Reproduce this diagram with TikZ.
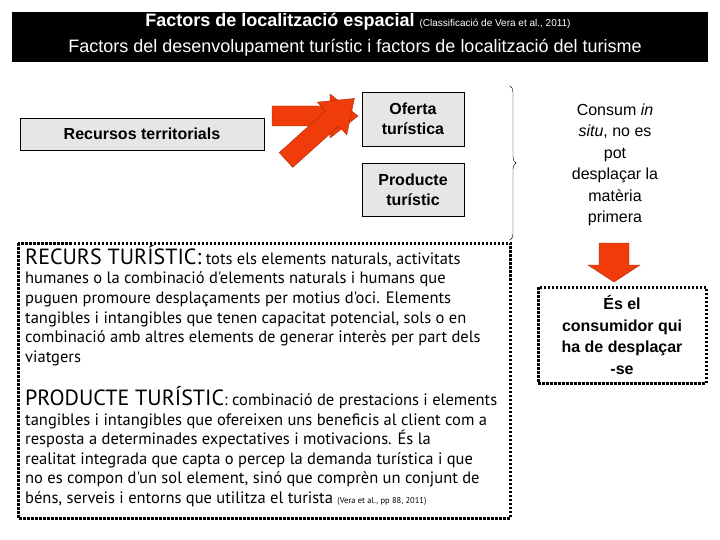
\documentclass[tikz,border=0pt]{standalone}
\usepackage{fontspec}
\setmainfont{Liberation Sans}
\newfontfamily\gill{PT Sans}
\usetikzlibrary{decorations.pathreplacing}
\definecolor{arrred}{RGB}{240,60,10}
\definecolor{boxgray}{RGB}{230,230,230}
\tikzset{
 graybox/.style={draw=black,fill=boxgray,font=\bfseries\fontsize{16}{20}\selectfont,align=center,inner sep=0pt},
 redarrow/.style={draw=arrred!70!black,fill=arrred},
 dotbox/.style={draw=black,line width=3pt,dash pattern=on 2.5pt off 1.5pt}
}
\begin{document}
\begin{tikzpicture}[x=1pt,y=-1pt]
\useasboundingbox (0,0) rectangle (720,540);
\node[fill=black,minimum width=696pt,minimum height=50pt,inner sep=0pt,anchor=north west] (hdr) at (12,12) {};
\node[text=white,font=\bfseries\fontsize{18}{18}\selectfont] (h1) at (358,22) {Factors de localització espacial {\mdseries\fontsize{10}{10}\selectfont (Classificació de Vera et al., 2011)}};
\node[text=white,font=\fontsize{18}{18}\selectfont] (h2) at (355,48) {Factors del desenvolupament turístic i factors de localització del turisme};
\node[graybox,minimum width=244pt,minimum height=32pt] (rec) at (142,134) {Recursos territorials};
\node[graybox,minimum width=102pt,minimum height=54pt] (of) at (413,119) {Oferta\\turística};
\node[graybox,minimum width=102pt,minimum height=53pt] (pr) at (413,190) {Producte\\turístic};
\draw[redarrow] (272,106) -- (330,106) -- (330,94) -- (358,116) -- (330,138) -- (330,126) -- (272,126) -- cycle;
\begin{scope}[shift={(286,160)},rotate=42]
\draw[redarrow] (0,-10) -- (62,-10) -- (62,-22) -- (92,0) -- (62,22) -- (62,10) -- (0,10) -- cycle;
\end{scope}
\draw[decorate,decoration={brace,amplitude=6pt}] (510,86) -- (510,240);
\node[font=\fontsize{16}{21.5}\selectfont,align=center] (cons) at (615,165) {Consum \textit{in}\\\textit{situ}, no es\\pot\\desplaçar la\\matèria\\primera};
\draw[redarrow] (599,243) -- (629,243) -- (629,265) -- (640,265) -- (614,282) -- (588,265) -- (599,265) -- cycle;
\draw[dotbox] (538,287) rectangle (706,383);
\node[font=\bfseries\fontsize{16}{21.5}\selectfont,align=center] (es) at (622,335) {És el\\consumidor qui\\ha de desplaçar\\-se};
\draw[dotbox] (18,243) rectangle (510,518);
\node[anchor=north west,align=left,font=\gill\fontsize{16.5}{19.6}\selectfont,inner sep=0pt] (txt) at (25,245) {%
{\fontsize{22}{19.6}\selectfont RECURS TURÍSTIC:} tots els elements naturals, activitats\\
humanes o la combinació d'elements naturals i humans que\\
puguen promoure desplaçaments per motius d'oci. Elements\\
tangibles i intangibles que tenen capacitat potencial, sols o en\\
combinació amb altres elements de generar interès per part dels\\
viatgers\\[19.6pt]
{\fontsize{22}{19.6}\selectfont PRODUCTE TURÍSTIC}: combinació de prestacions i elements\\
tangibles i intangibles que ofereixen uns beneficis al client com a\\
resposta a determinades expectatives i motivacions. És la\\
realitat integrada que capta o percep la demanda turística i que\\
no es compon d'un sol element, sinó que comprèn un conjunt de\\
béns, serveis i entorns que utilitza el turista {\fontsize{8.5}{8}\selectfont (Vera et al., pp 88, 2011)}};
\end{tikzpicture}
\end{document}
